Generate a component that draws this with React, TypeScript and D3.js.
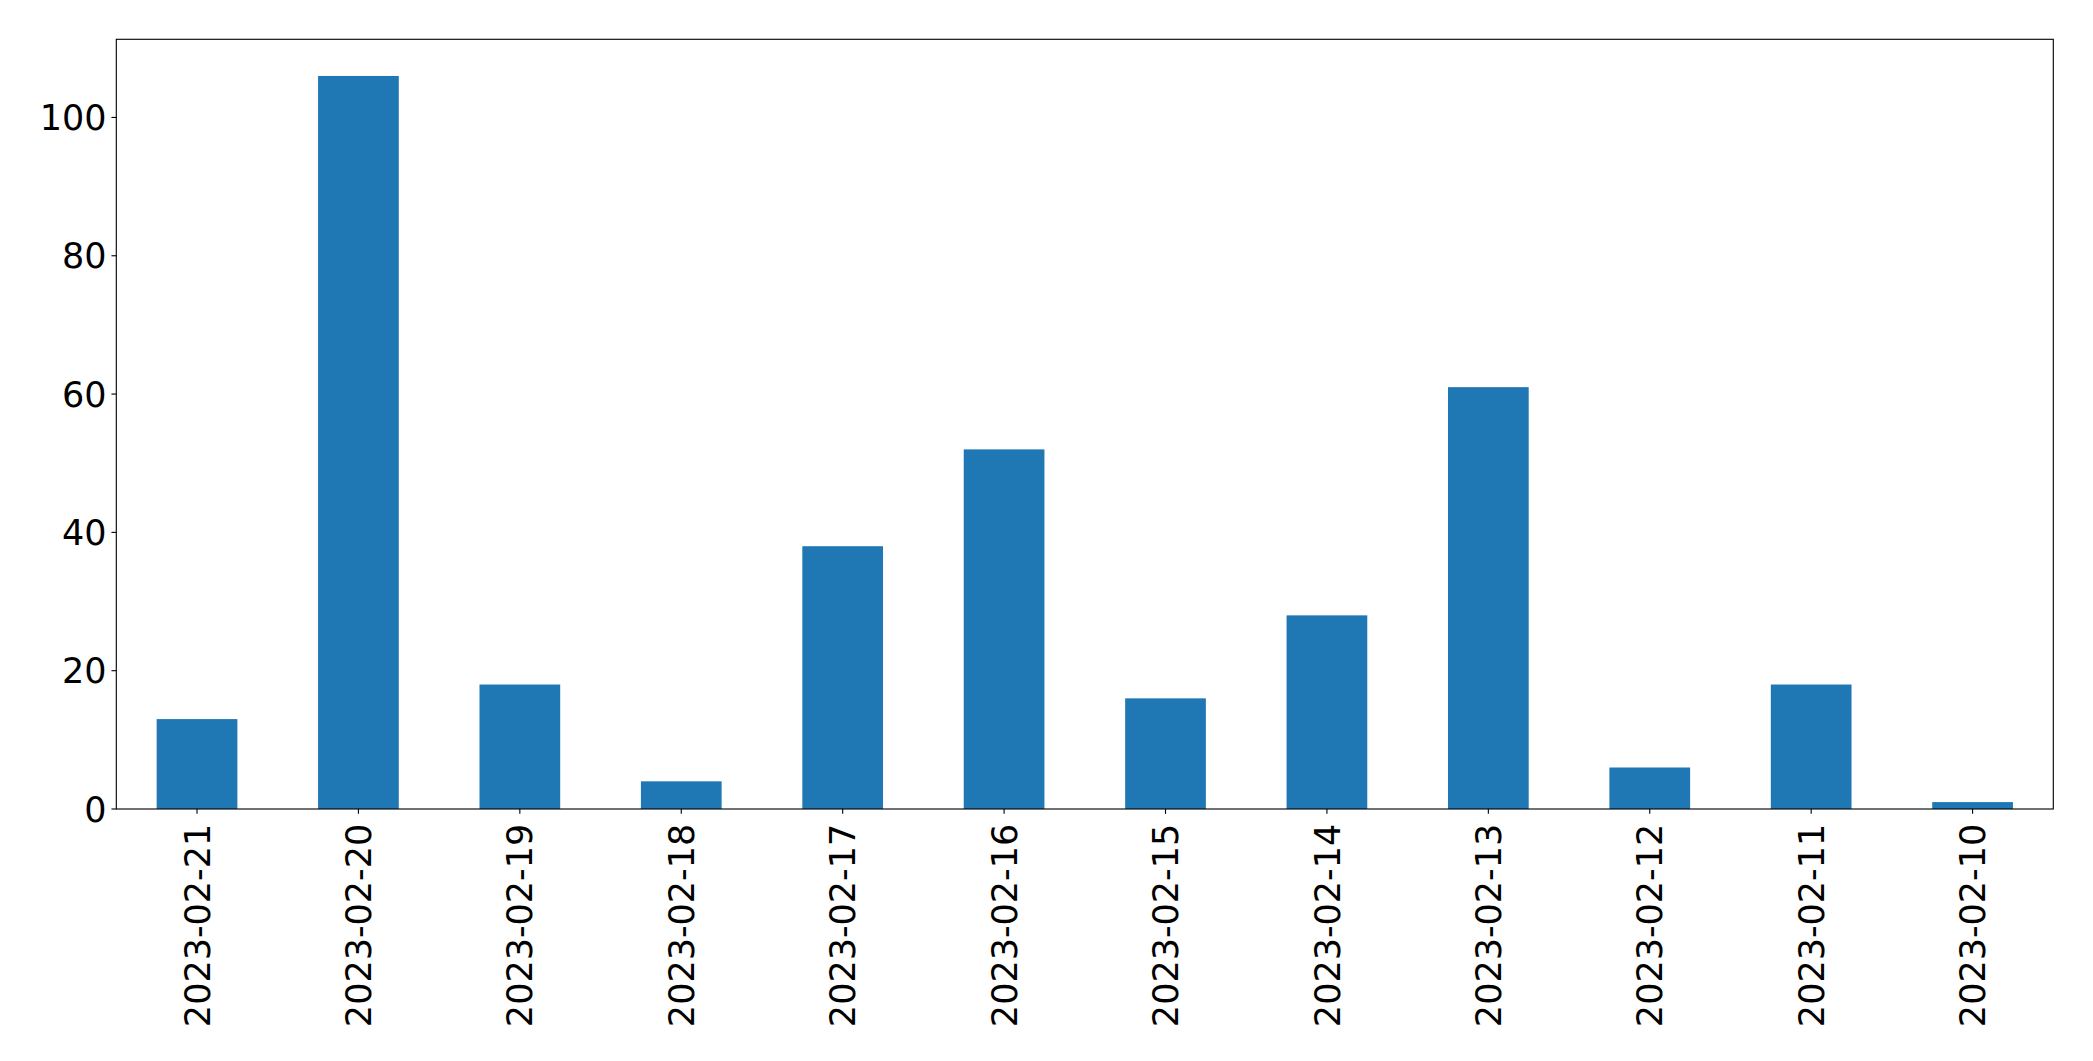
import { useRef, useEffect } from 'react';
import * as d3 from 'd3';

const dates = [
  '2023-02-21', '2023-02-20', '2023-02-19', '2023-02-18', '2023-02-17', '2023-02-16',
  '2023-02-15', '2023-02-14', '2023-02-13', '2023-02-12', '2023-02-11', '2023-02-10',
];
const counts = [13, 106, 18, 4, 38, 52, 16, 28, 61, 6, 18, 1];
const yTicks = [0, 20, 40, 60, 80, 100];

const App = () => {
  const ref = useRef<SVGSVGElement>(null);

  useEffect(() => {
    if (!ref.current) return;
    const svg = d3.select(ref.current);
    svg.selectAll('*').remove();

    const width = 2093;
    const height = 1061;
    const margin = { top: 39.3, right: 39.7, bottom: 252, left: 116.3 };
    const innerW = width - margin.left - margin.right;
    const innerH = height - margin.top - margin.bottom;
    const font = 'DejaVu Sans, sans-serif';
    const fontSize = 35;
    const tickLen = 4.86;
    const pad = 4.86;

    const maxVal = d3.max(counts) ?? 0;
    const x = d3.scaleBand<string>().domain(dates).range([0, innerW]).paddingInner(0.5).paddingOuter(0.25);
    const y = d3.scaleLinear().domain([0, maxVal * 1.05]).range([innerH, 0]);

    svg.append('rect').attr('width', width).attr('height', height).style('fill', 'white');

    const g = svg.append('g').attr('transform', `translate(${margin.left},${margin.top})`);

    g.selectAll('rect.bar')
      .data(counts)
      .enter()
      .append('rect')
      .attr('class', 'bar')
      .attr('x', (_, i) => x(dates[i]) ?? 0)
      .attr('y', d => y(d))
      .attr('width', x.bandwidth())
      .attr('height', d => innerH - y(d))
      .style('fill', '#1f77b4');

    // frame
    g.append('rect')
      .attr('width', innerW)
      .attr('height', innerH)
      .style('fill', 'none')
      .style('stroke', 'black')
      .style('stroke-width', 1.11);

    // y ticks
    const yt = g.selectAll('g.ytick').data(yTicks).enter().append('g')
      .attr('transform', d => `translate(0,${y(d)})`);
    yt.append('line').attr('x1', -tickLen).attr('x2', 0)
      .style('stroke', 'black').style('stroke-width', 1.11);
    yt.append('text')
      .attr('x', -tickLen - pad)
      .attr('dy', '0.36em')
      .attr('text-anchor', 'end')
      .style('font-family', font)
      .style('font-size', `${fontSize}px`)
      .style('fill', 'black')
      .text(d => String(d));

    // x ticks
    const xt = g.selectAll('g.xtick').data(dates).enter().append('g')
      .attr('transform', d => `translate(${(x(d) ?? 0) + x.bandwidth() / 2},${innerH})`);
    xt.append('line').attr('y1', 0).attr('y2', tickLen)
      .style('stroke', 'black').style('stroke-width', 1.11);
    xt.append('text')
      .attr('transform', `translate(0,${tickLen + pad + 5}) rotate(-90)`)
      .attr('dy', '0.36em')
      .attr('text-anchor', 'end')
      .style('font-family', font)
      .style('font-size', `${fontSize}px`)
      .style('fill', 'black')
      .text(d => d);
  }, []);

  return (
    <svg
      ref={ref}
      width={2093}
      height={1061}
      style={{ position: 'absolute', left: 0, top: 0, display: 'block' }}
    />
  );
};

export default App;
